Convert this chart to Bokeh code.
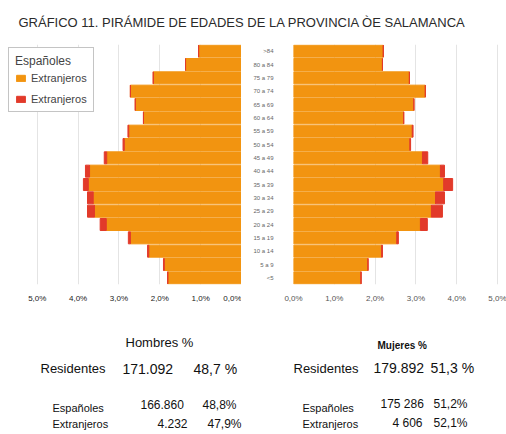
from bokeh.plotting import figure
from bokeh.layouts import column, row
from bokeh.models import (Range1d, FactorRange, FixedTicker, CustomJSTickFormatter,
                          Legend, LegendItem, Label, ColumnDataSource)
from bokeh.embed import file_html
from bokeh.resources import INLINE

# ---------------- data ----------------
ages = [">84", "80 a 84", "75 a 79", "70 a 74", "65 a 69", "60 a 64", "55 a 59",
        "50 a 54", "45 a 49", "40 a 44", "35 a 39", "30 a 34", "25 a 29", "20 a 24",
        "15 a 19", "10 a 14", "5 a 9", "<5"]
men_esp = [1.05, 1.37, 2.16, 2.72, 2.60, 2.40, 2.76, 2.87, 3.30, 3.72, 3.75, 3.63,
           3.60, 3.31, 2.72, 2.27, 1.89, 1.80]
men_ext = [0.00, 0.00, 0.00, 0.00, 0.00, 0.00, 0.02, 0.03, 0.06, 0.10, 0.12, 0.14,
           0.17, 0.15, 0.05, 0.03, 0.02, 0.01]
women_esp = [2.20, 2.18, 2.84, 3.23, 2.95, 2.70, 2.91, 2.85, 3.16, 3.60, 3.68, 3.48,
             3.38, 3.11, 2.53, 2.16, 1.82, 1.65]
women_ext = [0.00, 0.00, 0.00, 0.00, 0.00, 0.00, 0.02, 0.02, 0.13, 0.10, 0.22, 0.22,
             0.27, 0.17, 0.04, 0.02, 0.01, 0.01]
pct_ticks = [0, 1, 2, 3, 4, 5]

title_text = "GRÁFICO 11. PIRÁMIDE DE EDADES DE LA PROVINCIA ÒE SALAMANCA"
legend_title = "Españoles"
legend_labels = ["Extranjeros", "Extranjeros"]

hombres_head = "Hombres %"
mujeres_head = "Mujeres %"
row_names = ["Residentes", "Españoles", "Extranjeros"]
hombres_num = ["171.092", "166.860", "4.232"]
hombres_pct = ["48,7 %", "48,8%", "47,9%"]
mujeres_num = ["179.892", "175 286", "4 606"]
mujeres_pct = ["51,3 %", "51,2%", "52,1%"]

# ---------------- style ----------------
ORANGE = "#F29410"
RED = "#E23A2A"
FONT = "Liberation Sans"
W = 506
TITLE_H, PYR_H, TEXT_H = 40, 265, 129
LEFT_W = 241
RIGHT_W = W - LEFT_W

y_range = FactorRange(factors=list(reversed(ages)))
fmt = CustomJSTickFormatter(code="return tick.toFixed(1).replace('.', ',') + '%'")


def style_pyr(p, label_color):
    p.outline_line_color = None
    p.ygrid.visible = False
    p.xgrid.ticker = FixedTicker(ticks=pct_ticks)
    p.xgrid.grid_line_color = "#e4e4e4"
    ax = p.xaxis[0]
    ax.ticker = FixedTicker(ticks=pct_ticks)
    ax.formatter = fmt
    ax.axis_line_color = None
    ax.major_tick_line_color = None
    ax.minor_tick_line_color = None
    ax.major_label_standoff = 3
    ax.major_label_text_font = FONT
    ax.major_label_text_font_size = "8px"
    ax.major_label_text_color = label_color


# ---------------- title ----------------
pt = figure(width=W, height=TITLE_H, x_range=Range1d(0, W), y_range=Range1d(TITLE_H, 0),
            x_axis_location=None, y_axis_location=None, toolbar_location=None,
            output_backend="svg", min_border=0)
pt.outline_line_color = None
pt.grid.visible = False
pt.add_layout(Label(x=18, y=22, text=title_text, text_font=FONT, text_font_size="13px",
                    text_baseline="middle", text_color="#2a2a2a"))

# ---------------- men (left) ----------------
src_m = ColumnDataSource(dict(age=ages, esp=men_esp,
                              tot=[a + b for a, b in zip(men_esp, men_ext)]))
pl = figure(width=LEFT_W, height=PYR_H, x_range=Range1d(5.9, 0), y_range=y_range,
            y_axis_location=None, toolbar_location=None, output_backend="svg",
            min_border_left=0, min_border_right=0, min_border_top=4, min_border_bottom=15)
style_pyr(pl, "#1a1a1a")
r1 = pl.hbar(y="age", left=0, right="esp", height=0.9, color=ORANGE, source=src_m)
r2 = pl.hbar(y="age", left="esp", right="tot", height=0.9, color=RED, source=src_m)
leg = Legend(items=[LegendItem(label=legend_labels[0], renderers=[r1]),
                    LegendItem(label=legend_labels[1], renderers=[r2])],
             location=(8, 172), title=legend_title)
leg.title_text_font = FONT
leg.title_text_font_size = "12px"
leg.title_text_font_style = "normal"
leg.title_standoff = 4
leg.label_text_font = FONT
leg.label_text_font_size = "11px"
leg.glyph_width = 11
leg.glyph_height = 8
leg.spacing = 9
leg.padding = 6
leg.margin = 0
leg.border_line_color = "#8a8a8a"
leg.background_fill_alpha = 1.0
pl.add_layout(leg)

# ---------------- women (right) ----------------
src_w = ColumnDataSource(dict(age=ages, esp=women_esp,
                              tot=[a + b for a, b in zip(women_esp, women_ext)]))
pr = figure(width=RIGHT_W, height=PYR_H, x_range=Range1d(0, 5.22), y_range=y_range,
            toolbar_location=None, output_backend="svg",
            min_border_left=52, min_border_right=0, min_border_top=4, min_border_bottom=15)
style_pyr(pr, "#555555")
pr.hbar(y="age", left=0, right="esp", height=0.9, color=ORANGE, source=src_w)
pr.hbar(y="age", left="esp", right="tot", height=0.9, color=RED, source=src_w)
ya = pr.yaxis[0]
ya.axis_line_color = None
ya.major_tick_line_color = None
ya.minor_tick_line_color = None
ya.major_label_standoff = 14
ya.major_label_text_font = FONT
ya.major_label_text_font_size = "6px"
ya.major_label_text_color = "#666666"

# ---------------- summary text ----------------
ptx = figure(width=W, height=TEXT_H, x_range=Range1d(0, W), y_range=Range1d(TEXT_H, 0),
             x_axis_location=None, y_axis_location=None, toolbar_location=None,
             output_backend="svg", min_border=0)
ptx.outline_line_color = None
ptx.grid.visible = False


def lab(x, y, t, size, style="normal"):
    ptx.add_layout(Label(x=x, y=y, text=t, text_font=FONT, text_font_size=size,
                         text_font_style=style, text_baseline="middle", text_color="#111111"))


lab(125, 37, hombres_head, "13px")
lab(377, 40, mujeres_head, "10px", "bold")
name_x = [(40, 52, 52), (293, 302, 302)]
row_y = [63, 102, 118]
num_y = [63, 99, 118]
name_size = ["13px", "11px", "11px"]
for i in range(3):
    lab(name_x[0][i], row_y[i], row_names[i], name_size[i])
    lab(name_x[1][i], row_y[i], row_names[i], name_size[i])
h_num_x = [122, 140, 157]
h_pct_x = [193, 202, 207]
m_num_x = [373, 380, 392]
m_pct_x = [430, 433, 433]
num_size = ["14px", "12px", "12px"]
for i in range(3):
    lab(h_num_x[i], num_y[i], hombres_num[i], num_size[i])
    lab(h_pct_x[i], num_y[i], hombres_pct[i], num_size[i])
    lab(m_num_x[i], num_y[i] - 1, mujeres_num[i], num_size[i])
    lab(m_pct_x[i], num_y[i] - 1, mujeres_pct[i], num_size[i])

layout = column(pt, row(pl, pr), ptx)
open("out.html", "w").write(file_html(layout, INLINE))
